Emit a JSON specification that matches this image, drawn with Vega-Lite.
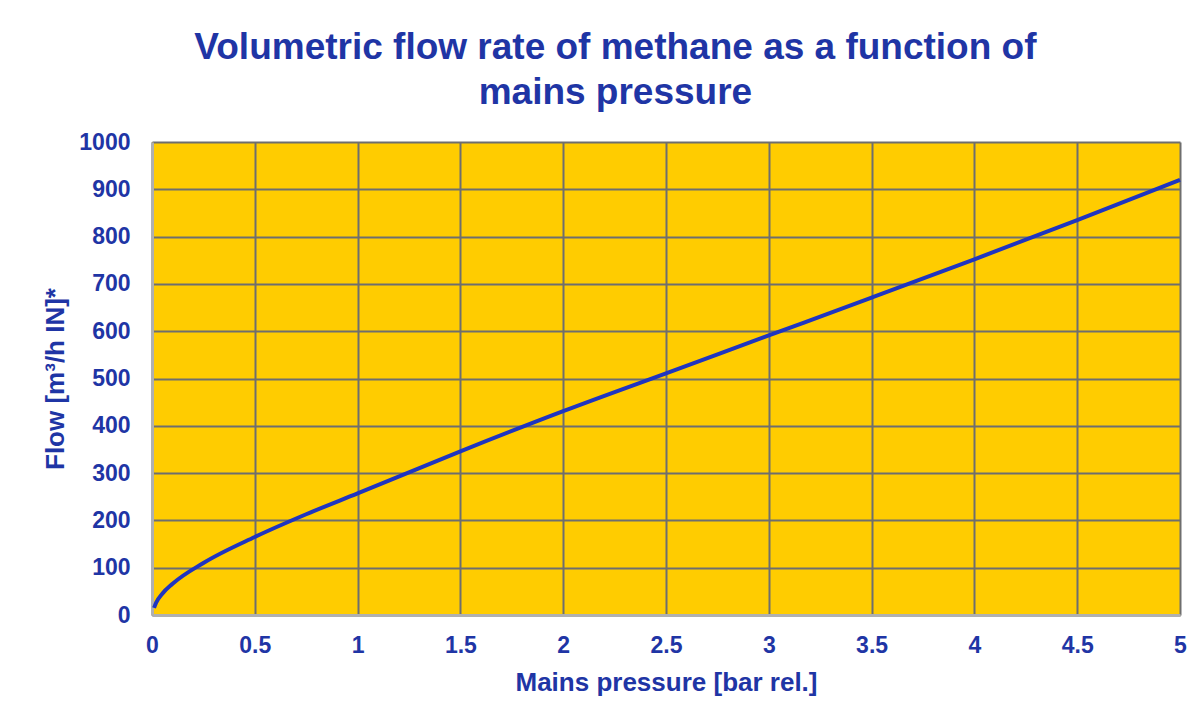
{
  "$schema": "https://vega.github.io/schema/vega-lite/v6.json",
  "width": 1028,
  "height": 473,
  "autosize": {"type": "none"},
  "padding": {"left": 152, "top": 142, "right": 17, "bottom": 110},
  "background": "white",
  "title": {
    "text": ["Volumetric flow rate of methane as a function of", "mains pressure"],
    "font": "Liberation Sans",
    "fontSize": 37,
    "fontWeight": "bold",
    "color": "#1F35A5",
    "lineHeight": 45,
    "anchor": "middle",
    "frame": "bounds",
    "offset": 19
  },
  "config": {
    "view": {"fill": "#FFCC00", "stroke": null},
    "font": "Liberation Sans"
  },
  "data": {
    "values": [
      {"p": 0.01, "flow": 15},
      {"p": 0.02, "flow": 26},
      {"p": 0.05, "flow": 45},
      {"p": 0.1, "flow": 66},
      {"p": 0.25, "flow": 110},
      {"p": 0.5, "flow": 165},
      {"p": 0.75, "flow": 213},
      {"p": 1, "flow": 257},
      {"p": 1.5, "flow": 346},
      {"p": 2, "flow": 431},
      {"p": 2.5, "flow": 511},
      {"p": 3, "flow": 591},
      {"p": 3.5, "flow": 671},
      {"p": 4, "flow": 752},
      {"p": 4.5, "flow": 835},
      {"p": 5, "flow": 920}
    ]
  },
  "mark": {"type": "line", "color": "#1F35C0", "strokeWidth": 4, "interpolate": "monotone"},
  "encoding": {
    "x": {
      "field": "p",
      "type": "quantitative",
      "scale": {"domain": [0, 5], "nice": false, "zero": false},
      "axis": {
        "title": "Mains pressure [bar rel.]",
        "values": [0, 0.5, 1, 1.5, 2, 2.5, 3, 3.5, 4, 4.5, 5],
        "format": "~g",
        "labelFont": "Liberation Sans",
        "labelFontSize": 23,
        "labelFontWeight": "bold",
        "labelColor": "#1F35A5",
        "labelPadding": 19,
        "ticks": false,
        "domainColor": "#B0B0B0",
        "domainWidth": 3,
        "gridColor": "#6E6E6E",
        "gridWidth": 2,
        "gridOpacity": 1,
        "titleFont": "Liberation Sans",
        "titleFontSize": 26,
        "titleFontWeight": "bold",
        "titleColor": "#1F35A5",
        "titlePadding": 12,
        "labelFlush": false
      }
    },
    "y": {
      "field": "flow",
      "type": "quantitative",
      "scale": {"domain": [0, 1000], "nice": false},
      "axis": {
        "title": "Flow [m³/h IN]*",
        "values": [0, 100, 200, 300, 400, 500, 600, 700, 800, 900, 1000],
        "format": "d",
        "labelFont": "Liberation Sans",
        "labelFontSize": 23,
        "labelFontWeight": "bold",
        "labelColor": "#1F35A5",
        "labelPadding": 22,
        "ticks": false,
        "domainColor": "#B0B0B0",
        "domainWidth": 3,
        "gridColor": "#6E6E6E",
        "gridWidth": 2,
        "gridOpacity": 1,
        "titleFont": "Liberation Sans",
        "titleFontSize": 26,
        "titleFontWeight": "bold",
        "titleColor": "#1F35A5",
        "titlePadding": 10,
        "labelFlush": false
      }
    }
  }
}
